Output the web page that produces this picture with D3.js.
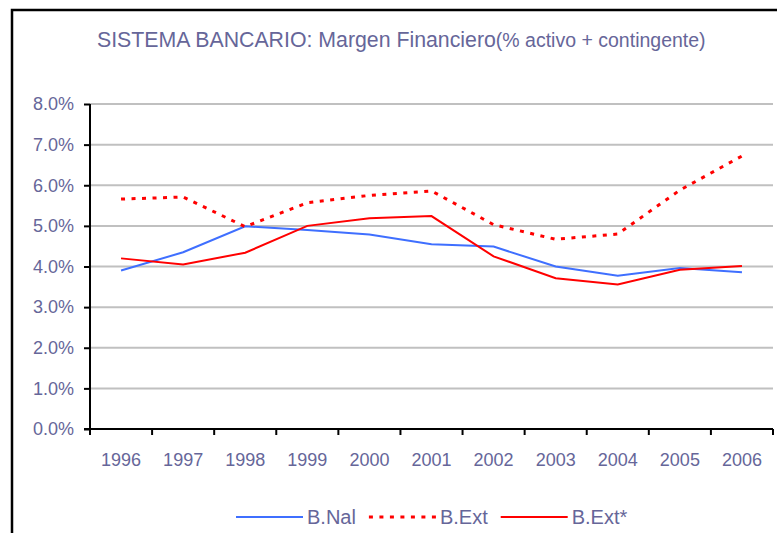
<!DOCTYPE html>
<html>
<head>
<meta charset="utf-8">
<script src="https://cdn.jsdelivr.net/npm/d3@7"></script>
<style>
  body { margin: 0; background: #fff; }
  svg { display: block; font-family: "Liberation Sans", Arial, sans-serif; }
</style>
</head>
<body>
<svg id="chart" width="777" height="533"></svg>
<script>
const years = ["1996", "1997", "1998", "1999", "2000", "2001", "2002", "2003", "2004", "2005", "2006"];
const bNal = [3.90, 4.35, 4.99, 4.90, 4.79, 4.55, 4.49, 4.00, 3.77, 3.96, 3.86];
const bExt = [5.66, 5.71, 4.98, 5.57, 5.75, 5.86, 5.03, 4.67, 4.80, 5.88, 6.72];
const bExtStar = [4.20, 4.05, 4.34, 5.00, 5.19, 5.24, 4.25, 3.71, 3.56, 3.92, 4.01];
const yTicks = [0, 1, 2, 3, 4, 5, 6, 7, 8];

const series = [
  { name: "B.Nal", values: bNal, color: "#3f6fff", width: 2, dash: null },
  { name: "B.Ext", values: bExt, color: "#ff0000", width: 3, dash: "4,6.5" },
  { name: "B.Ext*", values: bExtStar, color: "#ff0000", width: 2, dash: null }
];

const textColor = "#666699";
const svg = d3.select("#chart");

// outer frame (runs off right/bottom edge like the original)
svg.append("rect")
  .attr("x", 12).attr("y", 10)
  .attr("width", 800).attr("height", 560)
  .attr("fill", "none")
  .attr("stroke", "#000")
  .attr("stroke-width", 2.5);

// title
const title = svg.append("text")
  .attr("x", 97).attr("y", 47)
  .attr("fill", textColor);
title.append("tspan").attr("font-size", 21.3).text("SISTEMA BANCARIO: Margen Financiero");
title.append("tspan").attr("font-size", 19.5).text("(% activo + contingente)");

const x = d3.scaleBand().domain(years).range([90, 773]);
const y = d3.scaleLinear().domain([0, 8]).range([429, 104]);

// gridlines
svg.append("g")
  .selectAll("line")
  .data(yTicks.filter(d => d > 0))
  .enter()
  .append("line")
  .attr("x1", 90).attr("x2", 773)
  .attr("y1", d => y(d)).attr("y2", d => y(d))
  .attr("stroke", "#c0c0c0")
  .attr("stroke-width", 2);

// y axis
const yAxis = svg.append("g")
  .attr("transform", "translate(90,0)")
  .call(d3.axisLeft(y).tickValues(yTicks).tickSize(6).tickPadding(10)
    .tickFormat(d => d.toFixed(1) + "%"));

// x axis: ticks on band boundaries
const xAxis = svg.append("g")
  .attr("transform", "translate(0,429)")
  .call(d3.axisBottom(x).tickSize(0).tickPadding(24));
xAxis.selectAll(".bound")
  .data(years.concat(["end"]))
  .enter()
  .append("line")
  .attr("class", "bound")
  .attr("x1", (d, i) => 90 + i * x.step())
  .attr("x2", (d, i) => 90 + i * x.step())
  .attr("y1", 0).attr("y2", 6)
  .attr("stroke", "#000")
  .attr("stroke-width", 2);

[yAxis, xAxis].forEach(a => {
  a.select(".domain").attr("stroke", "#000").attr("stroke-width", 2);
  a.selectAll(".tick line").attr("stroke", "#000").attr("stroke-width", 2);
  a.selectAll(".tick text")
    .attr("fill", textColor)
    .attr("font-size", 18)
    .attr("font-family", "Liberation Sans, Arial, sans-serif");
});
yAxis.select(".domain").attr("d", "M0,104V429");
xAxis.select(".domain").attr("d", "M84,0H773");

// lines
const line = d3.line()
  .x((d, i) => x(years[i]) + x.bandwidth() / 2)
  .y(d => y(d));

svg.append("g")
  .selectAll("path")
  .data(series)
  .enter()
  .append("path")
  .attr("fill", "none")
  .attr("stroke", d => d.color)
  .attr("stroke-width", d => d.width)
  .attr("stroke-dasharray", d => d.dash)
  .attr("d", d => line(d.values));

// legend
const legend = svg.append("g");
let lx = 236;
series.forEach(s => {
  legend.append("line")
    .attr("x1", lx).attr("x2", lx + 67)
    .attr("y1", 517).attr("y2", 517)
    .attr("stroke", s.color)
    .attr("stroke-width", s.width)
    .attr("stroke-dasharray", s.dash);
  const t = legend.append("text")
    .attr("x", lx + 71).attr("y", 524)
    .attr("font-size", 20)
    .attr("fill", textColor)
    .text(s.name);
  lx += 71 + t.node().getComputedTextLength() + 13;
});
</script>
</body>
</html>
